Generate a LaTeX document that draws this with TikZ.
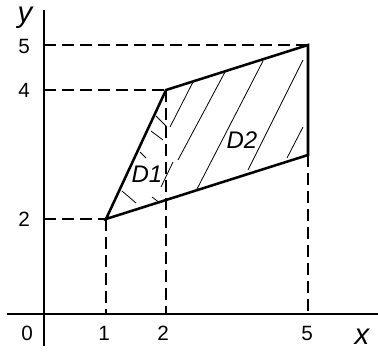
\documentclass[tikz,border=0pt]{standalone}
\usepackage{fontspec}
\setmainfont{Liberation Sans}
\begin{document}
\begin{tikzpicture}[x=0.75pt,y=-0.75pt,
  axis/.style={line width=1.1pt},
  guide/.style={line width=0.8pt,dash pattern=on 9pt off 4.5pt},
  border/.style={line width=1.9pt,line join=miter},
  hatch/.style={line width=0.6pt},
  tick/.style={font=\fontsize{15.5}{18}\selectfont,inner sep=0pt},
  axlabel/.style={font=\fontsize{22}{24}\selectfont\itshape,inner sep=0pt,anchor=base},
  region/.style={font=\fontsize{18}{20}\selectfont\itshape,inner sep=0pt}]
\useasboundingbox (0,0) rectangle (378,351);
% axes
\coordinate (ybot) at (44,346);
\coordinate (ytop) at (44,10);
\coordinate (xl) at (7,314);
\coordinate (xr) at (378,314);
\draw[axis] (ybot) -- (ytop);
\draw[axis] (xl) -- (xr);
% vertices
\coordinate (P1) at (106,219);
\coordinate (P2) at (166,90);
\coordinate (P3) at (308,45);
\coordinate (P4) at (308,155);
\coordinate (Y5) at (44,45);
\coordinate (Y4) at (44,90);
\coordinate (Y2) at (44,219);
\coordinate (X1) at (106,314);
\coordinate (X2) at (166,314);
\coordinate (X5) at (308,314);
% guides
\draw[guide] (Y5) -- (P3);
\draw[guide] (Y4) -- (P2);
\draw[guide] (Y2) -- (P1);
\draw[guide] (P1) -- (X1);
\draw[guide] (P2) -- (X2);
\draw[guide] (P4) -- (X5);
% hatching D2
\draw[hatch] (193,82) -- (170,127);
\draw[hatch] (225,72) -- (178,160);
\draw[hatch] (263,61) -- (197,189);
\draw[hatch] (303,60) -- (248,170);
\draw[hatch] (303,127) -- (287,158);
\draw[hatch] (173,162) -- (161,187);
% hatching D1
\draw[hatch] (156,116) -- (166,126);
\draw[hatch] (151,131) -- (163,140);
\draw[hatch] (140,152) -- (146,158);
\draw[hatch] (122,191) -- (136,203);
\draw[hatch] (152,197) -- (160,203);
% border
\draw[border] (P1) -- (P2) -- (P3) -- (P4) -- cycle;
% labels
\node[axlabel] (ly) at (25,22) {y};
\node[axlabel] (lx) at (362,344) {x};
\node[tick] (t5) at (24,46) {5};
\node[tick] (t4) at (24,90) {4};
\node[tick] (t2) at (24,219) {2};
\node[tick] (t0) at (27,333) {0};
\node[tick] (u1) at (104,333) {1};
\node[tick] (u2) at (163,333) {2};
\node[tick] (u5) at (307,333) {5};
\node[region] (d1) at (147,174) {D1};
\node[region] (d2) at (242,140) {D2};
\end{tikzpicture}
\end{document}
